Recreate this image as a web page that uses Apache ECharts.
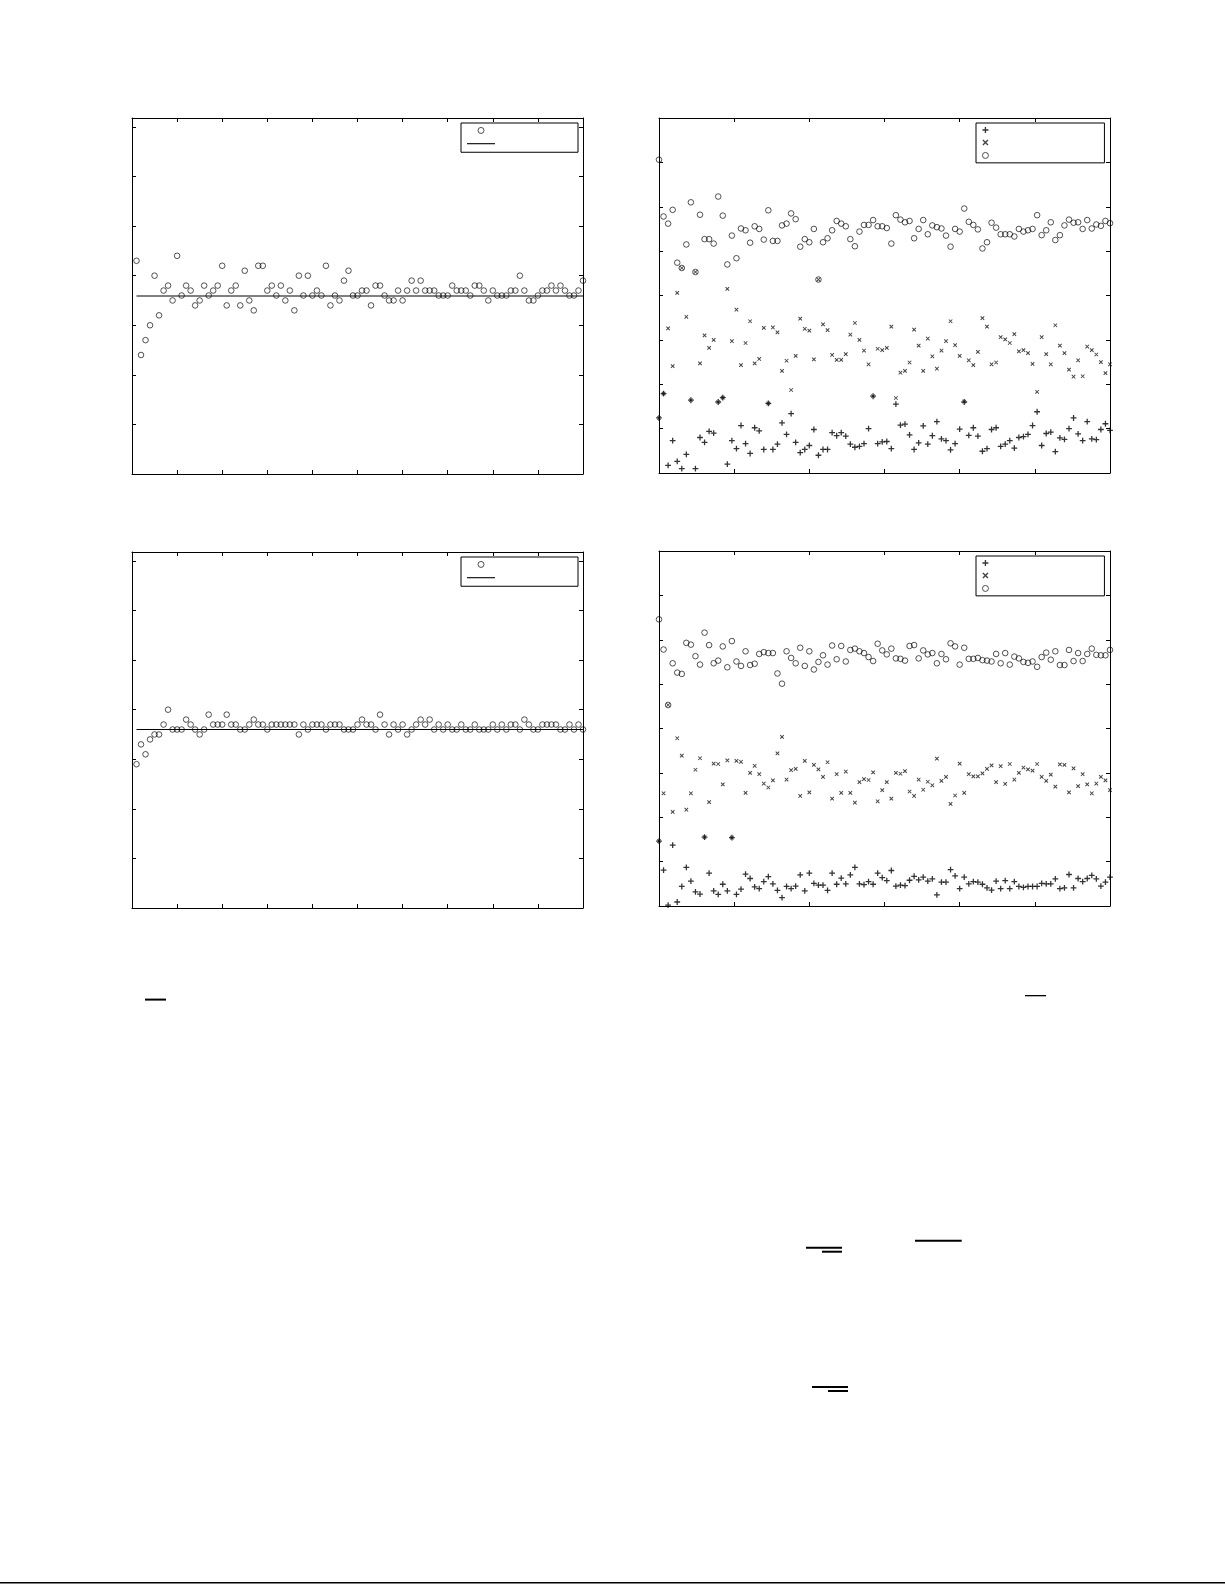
<!DOCTYPE html>
<html>
<head>
<meta charset="utf-8">
<script src="https://cdn.jsdelivr.net/npm/echarts@6/dist/echarts.min.js"></script>
<style>
html,body{margin:0;padding:0;background:#fff;}
#chart{width:1225px;height:1585px;}
</style>
</head>
<body>
<div id="chart"></div>
<script>
// ---------- data ----------
// top-left panel: 100 samples (x = 1..100) and mean line
const topLeftValues = [4.3,2.4,2.7,3.0,4.0,3.2,3.7,3.8,3.5,4.4, 3.6,3.8,3.7,3.4,3.5,3.8,3.6,3.7,3.8,4.2,
  3.4,3.7,3.8,3.4,4.1,3.5,3.3,4.2,4.2,3.7, 3.8,3.6,3.8,3.5,3.7,3.3,4.0,3.6,4.0,3.6,
  3.7,3.6,4.2,3.4,3.6,3.5,3.9,4.1,3.6,3.6, 3.7,3.7,3.4,3.8,3.8,3.6,3.5,3.5,3.7,3.5,
  3.7,3.9,3.7,3.9,3.7,3.7,3.7,3.6,3.6,3.6, 3.8,3.7,3.7,3.7,3.6,3.8,3.8,3.7,3.5,3.7,
  3.6,3.6,3.6,3.7,3.7,4.0,3.7,3.5,3.5,3.6, 3.7,3.7,3.8,3.7,3.8,3.7,3.6,3.6,3.7,3.9];
const topLeftMean = 3.59;

// bottom-left panel
const bottomLeftValues = [2.9,3.3,3.1,3.4,3.5,3.5,3.7,4.0,3.6,3.6, 3.6,3.8,3.7,3.6,3.5,3.6,3.9,3.7,3.7,3.7,
  3.9,3.7,3.7,3.6,3.6,3.7,3.8,3.7,3.7,3.6, 3.7,3.7,3.7,3.7,3.7,3.7,3.5,3.7,3.6,3.7,
  3.7,3.7,3.6,3.7,3.7,3.7,3.6,3.6,3.6,3.7, 3.8,3.7,3.7,3.6,3.9,3.7,3.5,3.7,3.6,3.7,
  3.5,3.6,3.7,3.8,3.7,3.8,3.6,3.7,3.6,3.7, 3.6,3.6,3.7,3.6,3.6,3.7,3.6,3.6,3.6,3.7,
  3.6,3.7,3.6,3.7,3.7,3.6,3.8,3.7,3.6,3.6, 3.7,3.7,3.7,3.7,3.6,3.6,3.7,3.6,3.7,3.6];
const bottomLeftMean = 3.6;

// top-right panel: three series, x = 0..99
const topRightPlus = [1.24,1.79,0.17,0.73,0.26,0.10,0.42,1.64,0.10,0.80, 0.69,0.94,0.90,1.60,1.70,0.20,0.73,0.55,1.07,0.66,
  0.44,1.02,0.95,0.53,1.57,0.53,0.65,1.13,0.87,1.34, 0.69,0.46,0.53,0.62,0.98,0.40,0.53,0.53,0.91,0.84,
  0.91,0.83,0.65,0.58,0.60,0.66,1.00,1.73,0.66,0.70, 0.71,0.55,1.55,1.08,1.10,0.86,0.53,0.68,1.06,0.65,
  0.84,1.16,0.77,0.73,0.52,0.66,0.99,1.60,0.85,1.02, 0.83,0.49,0.55,0.98,1.02,0.60,0.65,0.73,0.56,0.80,
  0.82,0.87,1.07,1.38,0.62,0.89,0.92,0.48,0.79,0.76, 1.00,1.24,0.88,0.73,1.16,0.77,0.75,0.98,1.11,0.96];
const topRightCross = [1.24,1.79,3.26,2.41,4.06,4.62,3.52,1.64,4.53,2.47, 3.10,2.82,3.00,1.60,1.70,4.15,2.97,3.68,2.43,2.93,
  3.42,2.47,2.57,3.27,1.57,3.28,3.17,2.30,2.53,1.87, 2.64,3.48,3.25,3.21,2.56,4.36,3.35,3.22,2.66,2.55,
  2.55,2.68,3.12,3.38,3.00,2.76,2.45,1.73,2.80,2.77, 2.82,3.30,1.69,2.26,2.30,2.49,3.23,2.87,2.30,3.03,
  2.63,2.35,2.76,2.97,3.42,2.88,2.64,1.61,2.54,2.43, 2.73,3.49,3.30,2.45,2.49,3.06,3.01,2.93,3.13,2.74,
  2.77,2.70,2.46,1.83,3.06,2.68,2.45,3.33,2.87,2.70, 2.33,2.17,2.54,2.18,2.85,2.77,2.67,2.50,2.25,2.45];
const topRightCircle = [7.06,5.78,5.62,5.93,4.74,4.62,5.15,6.10,4.53,5.82, 5.27,5.27,5.17,6.23,5.80,4.70,5.35,4.84,5.51,5.47,
  5.19,5.56,5.50,5.26,5.92,5.23,5.23,5.58,5.62,5.85, 5.72,5.10,5.27,5.20,5.50,4.36,5.20,5.29,5.47,5.68,
  5.62,5.56,5.27,5.11,5.44,5.59,5.59,5.70,5.56,5.56, 5.52,5.17,5.81,5.71,5.65,5.68,5.29,5.50,5.70,5.38,
  5.58,5.54,5.51,5.35,5.10,5.50,5.44,5.96,5.66,5.59, 5.49,5.06,5.20,5.64,5.53,5.38,5.38,5.38,5.33,5.50,
  5.44,5.47,5.50,5.81,5.36,5.47,5.65,5.25,5.36,5.58, 5.71,5.64,5.65,5.50,5.70,5.51,5.60,5.57,5.68,5.63];

// bottom-right panel
const bottomRightPlus = [1.46,0.81,0.02,1.37,0.09,0.44,0.87,0.56,0.32,0.27, 1.55,0.74,0.34,0.26,0.49,0.34,1.54,0.26,0.38,0.72,
  0.62,0.43,0.39,0.55,0.66,0.50,0.35,0.19,0.44,0.39, 0.45,0.70,0.34,0.74,0.51,0.47,0.47,0.35,0.74,0.49,
  0.63,0.50,0.70,0.87,0.50,0.48,0.55,0.49,0.74,0.64, 0.57,0.80,0.45,0.47,0.46,0.58,0.67,0.59,0.65,0.56,
  0.61,0.25,0.54,0.54,0.82,0.68,0.39,0.65,0.50,0.55, 0.54,0.49,0.41,0.36,0.56,0.39,0.57,0.39,0.55,0.44,
  0.42,0.44,0.44,0.44,0.51,0.50,0.50,0.61,0.39,0.41, 0.71,0.41,0.62,0.55,0.62,0.69,0.61,0.45,0.54,0.65];
const bottomRightCross = [1.46,2.54,4.53,2.12,3.78,3.39,2.17,2.54,3.07,3.33, 1.55,2.34,3.21,3.20,2.74,3.28,1.54,3.27,3.25,2.55,
  3.00,3.16,2.97,2.76,2.67,2.83,3.44,3.81,2.85,3.06, 3.09,2.48,3.27,2.56,3.18,3.08,2.91,3.24,2.42,2.97,
  2.55,3.03,2.55,2.33,2.79,2.86,2.84,3.01,2.36,2.61, 2.79,2.42,3.00,2.98,3.04,2.58,2.48,2.85,2.62,2.80,
  2.72,3.32,2.82,2.91,2.30,2.49,3.21,2.55,2.97,2.92, 2.92,2.99,3.09,3.17,2.79,3.15,2.75,3.20,2.85,3.00,
  3.12,3.08,3.05,3.20,2.91,2.82,2.96,2.69,3.19,3.18, 2.56,3.10,2.70,2.97,2.74,2.54,2.76,2.91,2.83,2.61];
const bottomRightCircle = [6.46,5.78,4.53,5.47,5.26,5.23,5.93,5.89,5.63,5.44, 6.16,5.88,5.47,5.53,5.85,5.38,5.97,5.51,5.41,5.74,
  5.43,5.46,5.68,5.72,5.70,5.70,5.24,5.01,5.74,5.59, 5.47,5.82,5.41,5.74,5.33,5.50,5.65,5.44,5.87,5.56,
  5.86,5.51,5.77,5.80,5.74,5.70,5.61,5.52,5.91,5.76, 5.67,5.80,5.58,5.57,5.53,5.86,5.88,5.58,5.76,5.67,
  5.70,5.47,5.68,5.56,5.92,5.85,5.44,5.82,5.57,5.57, 5.59,5.54,5.53,5.51,5.68,5.47,5.70,5.44,5.62,5.58,
  5.50,5.48,5.51,5.39,5.61,5.71,5.55,5.74,5.43,5.43, 5.77,5.52,5.70,5.52,5.68,5.80,5.66,5.65,5.65,5.77];

// axis extents
const leftX = {min: 0, max: 100, interval: 10};
const leftY = {min: 0, max: 7.18, interval: 1};
const rightX = {min: 0, max: 99, interval: 16.5};
const rightY = {min: 0, max: 8, interval: 1};

// ---------- helpers ----------
const pairs = (vals, start) => vals.map((v, i) => [i + start, v]);
const INK = '#000';
const PLUS = 'path://M0,3.9L10,3.9L10,6.1L0,6.1Z M3.9,0L6.1,0L6.1,10L3.9,10Z';
const CROSS = 'path://M0,1.6L1.6,0L10,8.4L8.4,10Z M8.4,0L10,1.6L1.6,10L0,8.4Z';
const LINEICON = 'path://M0,0L28,0L28,1.1L0,1.1Z';
const circleStyle = {color: 'rgba(0,0,0,0)', borderColor: '#000', borderWidth: 0.85};

function xAxes(g, ext) {
  return ['bottom', 'top'].map(pos => ({
    type: 'value', gridIndex: g, position: pos, min: ext.min, max: ext.max, interval: ext.interval,
    axisLine: {show: true, onZero: false, lineStyle: {color: INK, width: 1}},
    axisTick: {show: true, inside: true, length: 4, lineStyle: {color: INK, width: 1}},
    axisLabel: {show: false}, splitLine: {show: false}
  }));
}
function yAxes(g, ext) {
  return ['left', 'right'].map(pos => ({
    type: 'value', gridIndex: g, position: pos, min: ext.min, max: ext.max, interval: ext.interval,
    axisLine: {show: true, onZero: false, lineStyle: {color: INK, width: 1}},
    axisTick: {show: true, inside: true, length: 4, lineStyle: {color: INK, width: 1}},
    axisLabel: {show: false}, splitLine: {show: false}
  }));
}
function circleSeries(name, g, data) {
  return {type: 'scatter', name, xAxisIndex: 2 * g, yAxisIndex: 2 * g, data,
    symbol: 'circle', symbolSize: 5.6, itemStyle: circleStyle,
    emphasis: {disabled: true}, silent: true};
}
function plusSeries(name, g, data) {
  return {type: 'scatter', name, xAxisIndex: 2 * g, yAxisIndex: 2 * g, data,
    symbol: PLUS, symbolSize: 5.8, itemStyle: {color: INK},
    emphasis: {disabled: true}, silent: true};
}
function crossSeries(name, g, data) {
  return {type: 'scatter', name, xAxisIndex: 2 * g, yAxisIndex: 2 * g, data,
    symbol: CROSS, symbolSize: 4.2, itemStyle: {color: '#111'},
    emphasis: {disabled: true}, silent: true};
}
function meanSeries(name, g, value) {
  return {type: 'line', name, xAxisIndex: 2 * g, yAxisIndex: 2 * g,
    data: [[1, value], [100, value]], symbol: 'none', showSymbol: false,
    lineStyle: {color: INK, width: 1}, itemStyle: {color: INK},
    emphasis: {disabled: true}, silent: true};
}
const circleItem = name => ({name, icon: 'circle', itemStyle: circleStyle});
const lineItem = name => ({name, icon: LINEICON, itemStyle: {color: INK, borderWidth: 0}});
const plusItem = name => ({name, icon: PLUS, itemStyle: {color: INK, borderWidth: 0}});
const crossItem = name => ({name, icon: CROSS, itemStyle: {color: '#111', borderWidth: 0}});

function legend(items, left, top, padRight, gap, padBottom) {
  return {data: items, left, top, orient: 'vertical', selectedMode: false,
    itemWidth: 28, itemHeight: 6, itemGap: gap,
    padding: [4, padRight, padBottom, 6],
    backgroundColor: '#fff', borderColor: INK, borderWidth: 1, borderRadius: 0,
    formatter: () => '', textStyle: {fontSize: 1, lineHeight: 1}};
}

const chart = echarts.init(document.getElementById('chart'), null, {renderer: 'canvas'});
chart.setOption({
  animation: false,
  backgroundColor: '#fff',
  grid: [
    {left: 132, top: 118, width: 451, height: 356},
    {left: 659, top: 118, width: 451, height: 355},
    {left: 132, top: 552, width: 451, height: 356},
    {left: 659, top: 551, width: 451, height: 355}
  ],
  xAxis: [...xAxes(0, leftX), ...xAxes(1, rightX), ...xAxes(2, leftX), ...xAxes(3, rightX)],
  yAxis: [...yAxes(0, leftY), ...yAxes(1, rightY), ...yAxes(2, leftY), ...yAxes(3, rightY)],
  legend: [
    legend([circleItem('a1'), lineItem('a2')], 461, 123, 78, 9.3, 8),
    legend([plusItem('b1'), crossItem('b2'), circleItem('b3')], 976, 123, 100, 6.5, 4),
    legend([circleItem('c1'), lineItem('c2')], 461, 557, 78, 9.3, 8),
    legend([plusItem('d1'), crossItem('d2'), circleItem('d3')], 976, 556, 100, 6.5, 4)
  ],
  series: [
    circleSeries('a1', 0, pairs(topLeftValues, 1)),
    meanSeries('a2', 0, topLeftMean),
    plusSeries('b1', 1, pairs(topRightPlus, 0)),
    crossSeries('b2', 1, pairs(topRightCross, 0)),
    circleSeries('b3', 1, pairs(topRightCircle, 0)),
    circleSeries('c1', 2, pairs(bottomLeftValues, 1)),
    meanSeries('c2', 2, bottomLeftMean),
    plusSeries('d1', 3, pairs(bottomRightPlus, 0)),
    crossSeries('d2', 3, pairs(bottomRightCross, 0)),
    circleSeries('d3', 3, pairs(bottomRightCircle, 0))
  ],
  graphic: [
    {type: 'rect', shape: {x: 145, y: 998.6, width: 21, height: 2}, style: {fill: INK}, silent: true},
    {type: 'rect', shape: {x: 1025, y: 995, width: 21, height: 1.3}, style: {fill: INK}, silent: true},
    {type: 'rect', shape: {x: 915, y: 1239.7, width: 46.7, height: 2}, style: {fill: INK}, silent: true},
    {type: 'rect', shape: {x: 806, y: 1246.7, width: 36, height: 2}, style: {fill: INK}, silent: true},
    {type: 'rect', shape: {x: 822, y: 1250.7, width: 20, height: 2}, style: {fill: INK}, silent: true},
    {type: 'rect', shape: {x: 812, y: 1386, width: 36, height: 2}, style: {fill: INK}, silent: true},
    {type: 'rect', shape: {x: 828, y: 1390, width: 20, height: 2}, style: {fill: INK}, silent: true},
    {type: 'rect', shape: {x: 0, y: 1582, width: 1225, height: 1.6}, style: {fill: INK}, silent: true}
  ]
});
</script>
</body>
</html>
